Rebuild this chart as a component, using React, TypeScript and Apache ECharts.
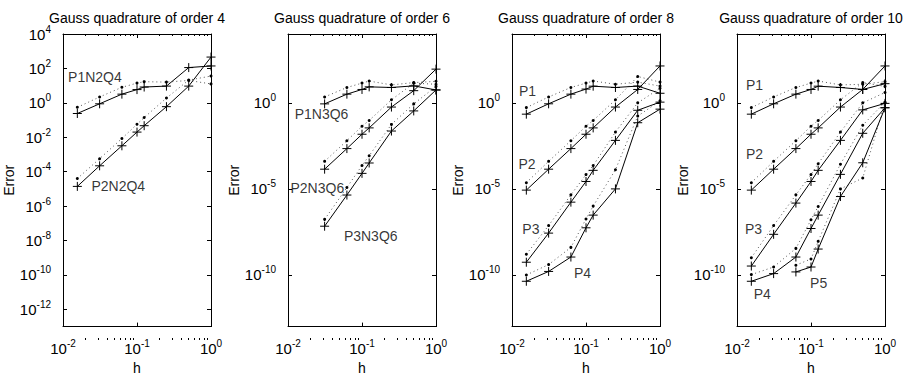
import React, { useEffect, useRef } from 'react';
import * as echarts from 'echarts';

// ---------- data ----------
const H_ALL = [1 / 64, 1 / 32, 1 / 16, 1 / 10, 1 / 8, 1 / 4, 1 / 2, 1];
const H_FROM32 = [1 / 32, 1 / 16, 1 / 10, 1 / 8, 1 / 4, 1 / 2, 1];
const H_FROM16 = [1 / 16, 1 / 10, 1 / 8, 1 / 4, 1 / 2, 1];

// order 4
const o4_P1 = [0.24, 0.88, 3.2, 5.9, 8.3, 9.4, 112, 139];
const o4_P1_est = [0.55, 2.2, 8, 14, 17, 16, 20, 12.6];
const o4_P2 = [1.4e-5, 2.2e-4, 3.2e-3, 0.02, 0.047, 0.6, 9.4, 457];
const o4_P2_est = [4e-5, 5.7e-4, 8.5e-3, 0.057, 0.14, 1.9, 21, 36];

// order 6
const o6_P1 = [0.87, 3.2, 6, 8.5, 7.8, 9.7, 5.6];
const o6_P1_est = [2.2, 7.8, 14, 18.5, 11, 15, 17.8];
const o6_P2 = [1.4e-4, 2.2e-3, 0.015, 0.035, 0.57, 5.1, 91];
const o6_P2_est = [4e-4, 6.3e-3, 0.044, 0.095, 1.5, 14, 12];
const o6_P3 = [6.8e-8, 4.4e-6, 8e-5, 3.2e-4, 0.023, 0.34, 5.6];
const o6_P3_est = [1.7e-7, 1.2e-5, 2.3e-4, 8.5e-4, 0.056, 0.87, 9];

// order 8
const o8_P1 = [0.22, 0.88, 3.2, 6.3, 9.3, 7.8, 9.4, 3.6];
const o8_P1_est = [0.53, 2.2, 7.8, 14, 18.6, 12, 16, 9.4];
const o8_P2 = [8.5e-6, 1.4e-4, 2.2e-3, 0.015, 0.035, 0.57, 6, 139];
const o8_P2_est = [2.3e-5, 4e-4, 6.3e-3, 0.044, 0.095, 1.5, 34, 16];
const o8_P3 = [5.5e-10, 2.7e-8, 1.7e-6, 2.7e-5, 1.2e-4, 6.6e-3, 0.37, 1.1];
const o8_P3_est = [1.6e-9, 7.4e-8, 4.5e-6, 6.8e-5, 2.3e-4, 0.02, 1.0, 7];
const o8_P4 = [4.3e-11, 1.6e-10, 1.1e-9, 5.5e-8, 3e-7, 1e-5, 0.07, 0.43];
const o8_P4_est = [1e-10, 4e-10, 4e-9, 1.8e-7, 1e-6, 1.3e-4, 0.17, 1.3];

// order 10
const o10_P1 = [0.22, 0.88, 3.2, 6, 9.3, 7.8, 6, 13];
const o10_P1_est = [0.53, 2.2, 7.8, 14, 18.6, 11, 12, 17];
const o10_P2 = [8.5e-6, 1.4e-4, 2.2e-3, 0.015, 0.035, 0.57, 6, 139];
const o10_P2_est = [2.3e-5, 4e-4, 6.3e-3, 0.044, 0.095, 1.5, 15, 9];
const o10_P3 = [3.3e-10, 2.3e-8, 1.5e-6, 2.7e-5, 1.2e-4, 6.6e-3, 0.39, 0.93];
const o10_P3_est = [1e-9, 7.4e-8, 4.5e-6, 6.8e-5, 2.9e-4, 0.02, 1.0, 4];
const o10_P4 = [4.3e-11, 1.2e-10, 1.1e-9, 5e-8, 3e-7, 7e-5, 0.017, 0.52];
const o10_P4_est = [1.05e-10, 2.9e-10, 3.5e-9, 1.6e-7, 9.5e-7, 2.7e-4, 0.05, 1.1];
const o10_P5 = [1.5e-10, 2.9e-10, 3.2e-9, 3.6e-6, 3.3e-4, 0.52];
const o10_P5_est = [3.7e-10, 8.5e-10, 9e-9, 1e-5, 4.3e-5, 1];

// titles, ticks, annotations
const TITLES = [
  'Gauss quadrature of order 4',
  'Gauss quadrature of order 6',
  'Gauss quadrature of order 8',
  'Gauss quadrature of order 10',
];
const X_MAJOR = [0.01, 0.1, 1];
const X_MINOR = [0.02, 0.03, 0.04, 0.05, 0.06, 0.07, 0.08, 0.09, 0.2, 0.3, 0.4, 0.5, 0.6, 0.7, 0.8, 0.9];
const Y_TICKS_4 = [1e4, 1e2, 1, 1e-2, 1e-4, 1e-6, 1e-8, 1e-10, 1e-12];
const Y_TICKS_STD = [1, 1e-5, 1e-10];
const X_MIN = 0.01;
const X_MAX = 1;
const Y_MIN = 1e-13;
const Y_MAX = 1e4;

const LABELS_4 = [
  { text: 'P1N2Q4', h: 0.0117, e: 33 },
  { text: 'P2N2Q4', h: 0.0242, e: 1.4e-5 },
];
const LABELS_6 = [
  { text: 'P1N3Q6', h: 0.0123, e: 0.24 },
  { text: 'P2N3Q6', h: 0.0108, e: 1.1e-5 },
  { text: 'P3N3Q6', h: 0.0569, e: 1.8e-8 },
];
const LABELS_8 = [
  { text: 'P1', h: 0.0124, e: 4.9 },
  { text: 'P2', h: 0.0122, e: 2.9e-4 },
  { text: 'P3', h: 0.0138, e: 4.6e-8 },
  { text: 'P4', h: 0.0686, e: 1.3e-10 },
];
const LABELS_10 = [
  { text: 'P1', h: 0.0132, e: 10.7 },
  { text: 'P2', h: 0.0132, e: 1.05e-3 },
  { text: 'P3', h: 0.0128, e: 4.6e-8 },
  { text: 'P4', h: 0.0168, e: 7.5e-12 },
  { text: 'P5', h: 0.0973, e: 3.2e-11 },
];

type Curve = { h: number[]; err: number[]; est: number[] };
type Panel = { title: string; yTicks: number[]; curves: Curve[]; labels: { text: string; h: number; e: number }[] };

const PANELS: Panel[] = [
  {
    title: TITLES[0],
    yTicks: Y_TICKS_4,
    curves: [
      { h: H_ALL, err: o4_P1, est: o4_P1_est },
      { h: H_ALL, err: o4_P2, est: o4_P2_est },
    ],
    labels: LABELS_4,
  },
  {
    title: TITLES[1],
    yTicks: Y_TICKS_STD,
    curves: [
      { h: H_FROM32, err: o6_P1, est: o6_P1_est },
      { h: H_FROM32, err: o6_P2, est: o6_P2_est },
      { h: H_FROM32, err: o6_P3, est: o6_P3_est },
    ],
    labels: LABELS_6,
  },
  {
    title: TITLES[2],
    yTicks: Y_TICKS_STD,
    curves: [
      { h: H_ALL, err: o8_P1, est: o8_P1_est },
      { h: H_ALL, err: o8_P2, est: o8_P2_est },
      { h: H_ALL, err: o8_P3, est: o8_P3_est },
      { h: H_ALL, err: o8_P4, est: o8_P4_est },
    ],
    labels: LABELS_8,
  },
  {
    title: TITLES[3],
    yTicks: Y_TICKS_STD,
    curves: [
      { h: H_ALL, err: o10_P1, est: o10_P1_est },
      { h: H_ALL, err: o10_P2, est: o10_P2_est },
      { h: H_ALL, err: o10_P3, est: o10_P3_est },
      { h: H_ALL, err: o10_P4, est: o10_P4_est },
      { h: H_FROM16, err: o10_P5, est: o10_P5_est },
    ],
    labels: LABELS_10,
  },
];

// ---------- layout / style ----------
const FONT = '"Liberation Sans", Arial, Helvetica, sans-serif';
const GRID_LEFT = [63, 288, 512, 737];
const GRID_TOP = 34;
const GRID_W = 148;
const GRID_H = 306;
const BLACK = '#000';
const PLUS = 'path://M5,0L5,10M0,5L10,5';

const supFormatter = (v: number) => {
  const e = Math.round(Math.log10(v));
  return `{b|10}{s|${e}}`;
};
const RICH = {
  b: { fontSize: 15, lineHeight: 20, fontFamily: FONT, color: BLACK, verticalAlign: 'middle' },
  s: { fontSize: 10, lineHeight: 8, fontFamily: FONT, color: BLACK, verticalAlign: 'top' },
};

function buildOption() {
  const grid: any[] = [];
  const xAxis: any[] = [];
  const yAxis: any[] = [];
  const series: any[] = [];
  const title: any[] = [];
  const lineStyle = { color: BLACK, width: 1 };

  PANELS.forEach((p, i) => {
    const left = GRID_LEFT[i];
    grid.push({ left, top: GRID_TOP, width: GRID_W, height: GRID_H, containLabel: false });
    grid.push({ left, top: GRID_TOP, width: GRID_W, height: GRID_H, containLabel: false });
    const gMain = 2 * i;
    const gOver = 2 * i + 1;
    const xBase = {
      type: 'log', logBase: 10, min: X_MIN, max: X_MAX,
      splitLine: { show: false }, minorTick: { show: false }, minorSplitLine: { show: false },
    };
    const xMainIdx = xAxis.length;
    xAxis.push({
      ...xBase, gridIndex: gMain, position: 'bottom',
      axisLine: { show: true, onZero: false, lineStyle },
      axisTick: { show: true, inside: true, length: 4, customValues: X_MAJOR, lineStyle },
      axisLabel: { show: true, customValues: X_MAJOR, formatter: supFormatter, rich: RICH, margin: 12 },
      name: 'h', nameLocation: 'middle', nameGap: 31,
      nameTextStyle: { fontSize: 14, fontFamily: FONT, color: BLACK },
    });
    xAxis.push({
      ...xBase, gridIndex: gMain, position: 'top',
      axisLine: { show: true, onZero: false, lineStyle },
      axisTick: { show: true, inside: true, length: 4, customValues: X_MAJOR, lineStyle },
      axisLabel: { show: false },
    });
    xAxis.push({
      ...xBase, gridIndex: gOver, position: 'bottom',
      axisLine: { show: false },
      axisTick: { show: true, inside: true, length: 2, customValues: X_MINOR, lineStyle },
      axisLabel: { show: false },
    });
    xAxis.push({
      ...xBase, gridIndex: gOver, position: 'top',
      axisLine: { show: false },
      axisTick: { show: true, inside: true, length: 2, customValues: X_MINOR, lineStyle },
      axisLabel: { show: false },
    });
    const yBase = {
      type: 'log', logBase: 10, min: Y_MIN, max: Y_MAX,
      splitLine: { show: false }, minorTick: { show: false }, minorSplitLine: { show: false },
    };
    const yMainIdx = yAxis.length;
    yAxis.push({
      ...yBase, gridIndex: gMain, position: 'left',
      axisLine: { show: true, onZero: false, lineStyle },
      axisTick: { show: true, inside: true, length: 4, customValues: p.yTicks, lineStyle },
      axisLabel: { show: true, customValues: p.yTicks, formatter: supFormatter, rich: RICH, margin: 12 },
      name: 'Error', nameLocation: 'middle', nameGap: 43,
      nameTextStyle: { fontSize: 14, fontFamily: FONT, color: BLACK },
    });
    yAxis.push({
      ...yBase, gridIndex: gMain, position: 'right',
      axisLine: { show: true, onZero: false, lineStyle },
      axisTick: { show: true, inside: true, length: 4, customValues: p.yTicks, lineStyle },
      axisLabel: { show: false },
    });
    yAxis.push({ ...yBase, gridIndex: gOver, show: false });

    p.curves.forEach((c) => {
      series.push({
        type: 'line', xAxisIndex: xMainIdx, yAxisIndex: yMainIdx,
        data: c.h.map((h, k) => [h, c.est[k]]),
        symbol: 'circle', symbolSize: 3, showAllSymbol: true,
        itemStyle: { color: BLACK },
        lineStyle: { color: '#555', width: 1, type: [1, 3] },
        z: 2, silent: true, emphasis: { disabled: true },
      });
      series.push({
        type: 'line', xAxisIndex: xMainIdx, yAxisIndex: yMainIdx,
        data: c.h.map((h, k) => [h, c.err[k]]),
        symbol: PLUS, symbolSize: 9, showAllSymbol: true,
        itemStyle: { color: BLACK, borderColor: BLACK, borderWidth: 1 },
        lineStyle: { color: BLACK, width: 1 },
        z: 3, silent: true, emphasis: { disabled: true },
      });
    });
    series.push({
      type: 'scatter', xAxisIndex: xMainIdx, yAxisIndex: yMainIdx,
      data: p.labels.map((l) => ({ name: l.text, value: [l.h, l.e] })),
      symbolSize: 0,
      label: {
        show: true, position: 'right', distance: 0, formatter: '{b}',
        fontSize: 14, fontFamily: FONT, color: BLACK,
      },
      z: 4, silent: true, emphasis: { disabled: true },
    });

    title.push({
      text: p.title,
      left: left + GRID_W / 2,
      top: 10,
      textAlign: 'center',
      padding: 0,
      textStyle: { fontSize: 14, fontWeight: 'normal', fontFamily: FONT, color: BLACK, lineHeight: 16 },
    });
  });

  return {
    animation: false,
    backgroundColor: '#fff',
    title, grid, xAxis, yAxis, series,
  };
}

export default function App() {
  const ref = useRef<HTMLDivElement>(null);
  useEffect(() => {
    const chart = echarts.init(ref.current!, undefined, { renderer: 'svg' });
    chart.setOption(buildOption() as any);
    return () => chart.dispose();
  }, []);
  return (
    <div
      ref={ref}
      style={{ position: 'absolute', left: 0, top: 0, width: 911, height: 380, background: '#fff' }}
    />
  );
}
